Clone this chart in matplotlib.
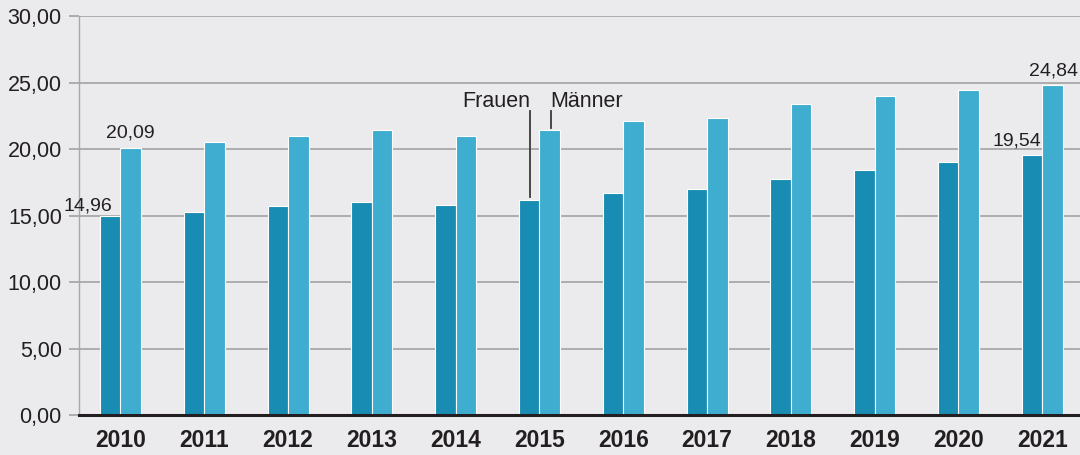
import matplotlib.pyplot as plt
import numpy as np
from matplotlib.ticker import FuncFormatter

plt.rcParams['font.family'] = ['Liberation Sans', 'DejaVu Sans']

# Data
years = ['2010', '2011', '2012', '2013', '2014', '2015',
         '2016', '2017', '2018', '2019', '2020', '2021']
frauen = [14.96, 15.30, 15.70, 16.05, 15.80, 16.15,
          16.70, 17.00, 17.75, 18.45, 19.00, 19.54]
maenner = [20.09, 20.50, 21.00, 21.40, 21.00, 21.40,
           22.10, 22.30, 23.35, 23.95, 24.45, 24.84]

bg = '#EBEBED'
c_f = '#188CB3'
c_m = '#3EADD0'
tc = '#231F20'

fig = plt.figure(figsize=(10.8, 4.55), dpi=100, facecolor=bg)
ax = fig.add_axes([0.0727, (455 - 415) / 455, 1 - 0.0727, 399 / 455])
ax.set_facecolor(bg)

x = np.arange(len(years))
w = 0.245
off = 0.122
ax.bar(x - off, frauen, w, color=c_f, edgecolor='white', linewidth=0.8, zorder=3)
ax.bar(x + off, maenner, w, color=c_m, edgecolor='white', linewidth=0.8, zorder=3)

ax.set_xlim(-0.501, 11.45)
ax.set_ylim(0, 30)
ax.set_yticks(np.arange(0, 31, 5))
ax.yaxis.set_major_formatter(FuncFormatter(lambda v, p: f'{v:.2f}'.replace('.', ',')))
ax.grid(axis='y', color='#A8A8AA', linewidth=1.3, zorder=0)
ax.set_axisbelow(True)

ax.set_xticks(x)
ax.set_xticklabels(years, fontsize=16.5, fontweight='bold', color=tc)
ax.tick_params(axis='x', length=0, pad=10)
ax.tick_params(axis='y', length=7, width=1.3, color='#A8A8AA', labelsize=15.5,
               labelcolor=tc, pad=5)

for s in ['top', 'right']:
    ax.spines[s].set_visible(False)
ax.spines['left'].set_color('#A8A8AA')
ax.spines['left'].set_linewidth(1.0)
ax.spines['bottom'].set_color(tc)
ax.spines['bottom'].set_linewidth(2.2)
ax.spines['bottom'].set_zorder(5)

def fmt(v):
    return f'{v:.2f}'.replace('.', ',')

ax.text(x[0] - 0.10, frauen[0] + 0.38, fmt(frauen[0]), ha='right', va='baseline',
        fontsize=14, color=tc)
ax.text(x[0] + off, maenner[0] + 0.74, fmt(maenner[0]), ha='center', va='baseline',
        fontsize=14, color=tc)
ax.text(x[-1] - 0.007, frauen[-1] + 0.76, fmt(frauen[-1]), ha='right', va='baseline',
        fontsize=14, color=tc)
ax.text(x[-1] + 0.128, maenner[-1] + 0.65, fmt(maenner[-1]), ha='center', va='baseline',
        fontsize=14, color=tc)

# Legend callouts at 2015
i = 5
ax.plot([x[i] - 0.113, x[i] - 0.113], [16.39, 22.86], color='#3A3A3C', lw=1.3, zorder=4)
ax.plot([x[i] + 0.137, x[i] + 0.137], [21.58, 22.86], color='#3A3A3C', lw=1.3, zorder=4)
ax.text(x[i] - 0.113, 23.16, 'Frauen', ha='right', va='baseline', fontsize=15.5, color=tc)
ax.text(x[i] + 0.125, 23.16, 'Männer', ha='left', va='baseline', fontsize=15.5, color=tc)

fig.savefig('out.png', dpi=100, facecolor=bg)
